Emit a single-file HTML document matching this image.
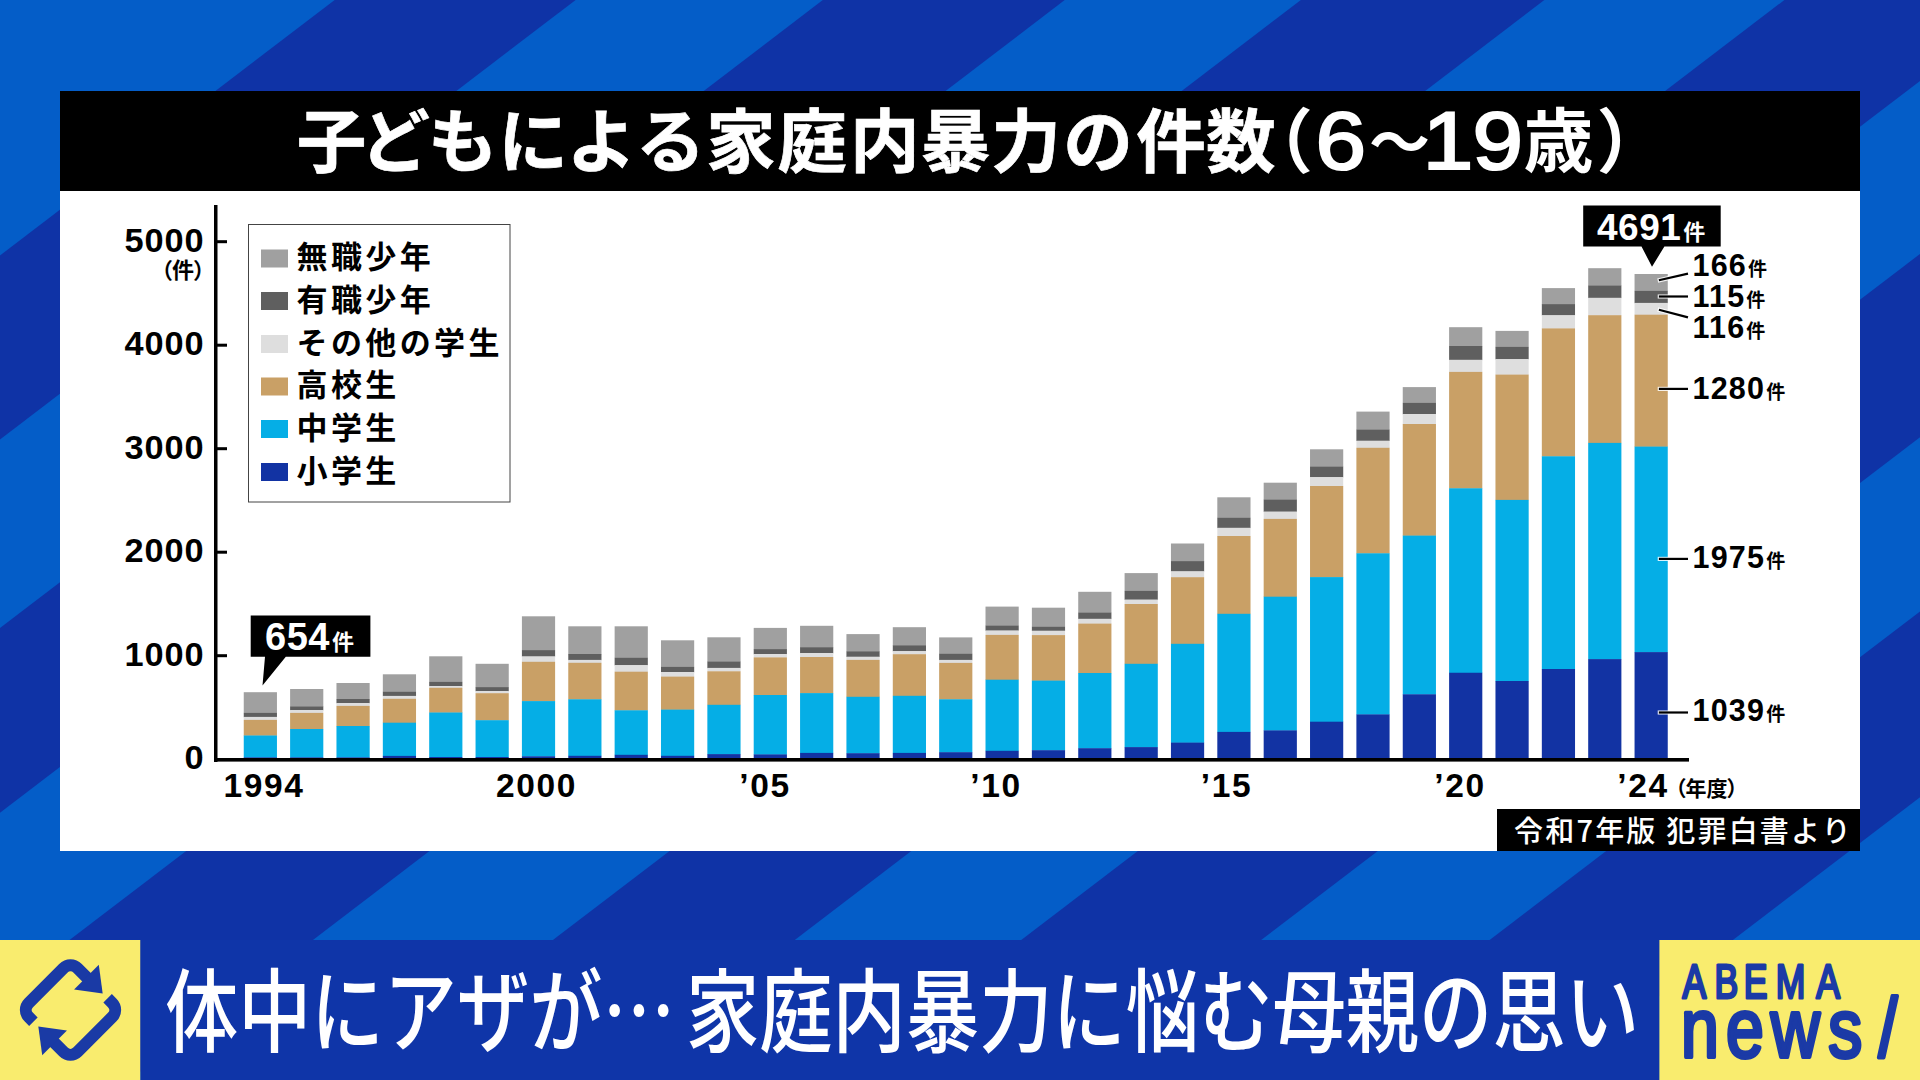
<!DOCTYPE html>
<html lang="ja"><head><meta charset="utf-8">
<style>
html,body{margin:0;padding:0;width:1920px;height:1080px;overflow:hidden;background:#0f33a6;}
svg{display:block;}
svg{font-family:"Liberation Sans","Noto Sans CJK JP",sans-serif;}
.yl{font-size:31px;font-weight:700;letter-spacing:1.6px;}
.xl{font-size:33.5px;font-weight:700;letter-spacing:1.6px;}
.jp{font-family:"Noto Sans CJK JP",sans-serif;}
</style></head><body>
<svg width="1920" height="1080" viewBox="0 0 1920 1080">
<rect x="0" y="0" width="1920" height="1080" fill="#045dc8"/><g fill="#0f33a6"><polygon points="334.7,0 575.6,0 -839.2,1080 -1080.1,1080"/><polygon points="822.8,0 1064.7,0 -350.1,1080 -592,1080"/><polygon points="1300.9,0 1544.3,0 129.5,1080 -113.9,1080"/><polygon points="1784.4,0 2026,0 611.2,1080 369.6,1080"/><polygon points="2252.7,0 2492.7,0 1077.9,1080 837.9,1080"/><polygon points="2721,0 2964.3,0 1549.5,1080 1306.2,1080"/></g>
<rect x="60" y="91" width="1800" height="760" fill="#fff"/>
<rect x="60" y="91" width="1800" height="100" fill="#000"/>
<text y="167.3" fill="#fff" font-weight="700"><tspan class="jp" x="296.75 360.2 428.1 498.25 566.8 635.8 705.9 777.35 850.1 920.85 991.25 1063.3 1136.3 1205.9" font-size="69.6" stroke="#fff" stroke-width="0.7">子どもによる家庭内暴力の件数</tspan><tspan class="jp" x="1243" font-size="70">（</tspan><tspan x="1315.5" y="169.3" font-size="81.3" font-weight="400" stroke="#fff" stroke-width="2.2" textLength="50.5" lengthAdjust="spacingAndGlyphs">6</tspan><tspan class="jp" x="1369" y="165" font-size="61">～</tspan><tspan x="1422.8" y="169.3" font-size="81.3" font-weight="400" stroke="#fff" stroke-width="2.2" textLength="50.5" lengthAdjust="spacingAndGlyphs">1</tspan><tspan x="1472.5" y="169.3" font-size="81.3" font-weight="400" stroke="#fff" stroke-width="2.2" textLength="50.5" lengthAdjust="spacingAndGlyphs">9</tspan><tspan class="jp" x="1523.5" y="167.3" font-size="70">歳</tspan><tspan class="jp" x="1596.5" font-size="70">）</tspan></text>
<rect x="243.75" y="692.2" width="33.2" height="21" fill="#a0a0a0"/><rect x="243.75" y="712.9" width="33.2" height="4.3" fill="#5f5f5f"/><rect x="243.75" y="716.9" width="33.2" height="3.3" fill="#dedede"/><rect x="243.75" y="719.9" width="33.2" height="15.9" fill="#c9a066"/><rect x="243.75" y="735.5" width="33.2" height="22.2" fill="#05aee6"/><rect x="243.75" y="757.4" width="33.2" height="2.6" fill="#1233a3"/><rect x="290.11" y="689" width="33.2" height="17.7" fill="#a0a0a0"/><rect x="290.11" y="706.4" width="33.2" height="3.9" fill="#5f5f5f"/><rect x="290.11" y="710" width="33.2" height="3.2" fill="#dedede"/><rect x="290.11" y="712.9" width="33.2" height="16.4" fill="#c9a066"/><rect x="290.11" y="729" width="33.2" height="28.7" fill="#05aee6"/><rect x="290.11" y="757.4" width="33.2" height="2.6" fill="#1233a3"/><rect x="336.47" y="683" width="33.2" height="16.3" fill="#a0a0a0"/><rect x="336.47" y="699" width="33.2" height="4.3" fill="#5f5f5f"/><rect x="336.47" y="703" width="33.2" height="3.2" fill="#dedede"/><rect x="336.47" y="705.9" width="33.2" height="20.4" fill="#c9a066"/><rect x="336.47" y="726" width="33.2" height="31.7" fill="#05aee6"/><rect x="336.47" y="757.4" width="33.2" height="2.6" fill="#1233a3"/><rect x="382.83" y="674.3" width="33.2" height="17.8" fill="#a0a0a0"/><rect x="382.83" y="691.8" width="33.2" height="4.4" fill="#5f5f5f"/><rect x="382.83" y="695.9" width="33.2" height="3.2" fill="#dedede"/><rect x="382.83" y="698.8" width="33.2" height="24.2" fill="#c9a066"/><rect x="382.83" y="722.7" width="33.2" height="33.5" fill="#05aee6"/><rect x="382.83" y="755.9" width="33.2" height="4.1" fill="#1233a3"/><rect x="429.19" y="656.3" width="33.2" height="25.9" fill="#a0a0a0"/><rect x="429.19" y="681.9" width="33.2" height="4.4" fill="#5f5f5f"/><rect x="429.19" y="686" width="33.2" height="2.1" fill="#dedede"/><rect x="429.19" y="687.8" width="33.2" height="25" fill="#c9a066"/><rect x="429.19" y="712.5" width="33.2" height="44.8" fill="#05aee6"/><rect x="429.19" y="757" width="33.2" height="3" fill="#1233a3"/><rect x="475.55" y="663.8" width="33.2" height="23.6" fill="#a0a0a0"/><rect x="475.55" y="687.1" width="33.2" height="4.2" fill="#5f5f5f"/><rect x="475.55" y="691" width="33.2" height="2.5" fill="#dedede"/><rect x="475.55" y="693.2" width="33.2" height="27.3" fill="#c9a066"/><rect x="475.55" y="720.2" width="33.2" height="37.1" fill="#05aee6"/><rect x="475.55" y="757" width="33.2" height="3" fill="#1233a3"/><rect x="521.91" y="616.3" width="33.2" height="34.1" fill="#a0a0a0"/><rect x="521.91" y="650.1" width="33.2" height="6.6" fill="#5f5f5f"/><rect x="521.91" y="656.4" width="33.2" height="5.7" fill="#dedede"/><rect x="521.91" y="661.8" width="33.2" height="39.6" fill="#c9a066"/><rect x="521.91" y="701.1" width="33.2" height="55.5" fill="#05aee6"/><rect x="521.91" y="756.3" width="33.2" height="3.7" fill="#1233a3"/><rect x="568.27" y="626.3" width="33.2" height="28" fill="#a0a0a0"/><rect x="568.27" y="654" width="33.2" height="6.2" fill="#5f5f5f"/><rect x="568.27" y="659.9" width="33.2" height="3.2" fill="#dedede"/><rect x="568.27" y="662.8" width="33.2" height="36.8" fill="#c9a066"/><rect x="568.27" y="699.3" width="33.2" height="56.8" fill="#05aee6"/><rect x="568.27" y="755.8" width="33.2" height="4.2" fill="#1233a3"/><rect x="614.63" y="626.3" width="33.2" height="31.8" fill="#a0a0a0"/><rect x="614.63" y="657.8" width="33.2" height="7.6" fill="#5f5f5f"/><rect x="614.63" y="665.1" width="33.2" height="6.9" fill="#dedede"/><rect x="614.63" y="671.7" width="33.2" height="38.9" fill="#c9a066"/><rect x="614.63" y="710.3" width="33.2" height="44.8" fill="#05aee6"/><rect x="614.63" y="754.8" width="33.2" height="5.2" fill="#1233a3"/><rect x="660.99" y="640.3" width="33.2" height="26.9" fill="#a0a0a0"/><rect x="660.99" y="666.9" width="33.2" height="5.4" fill="#5f5f5f"/><rect x="660.99" y="672" width="33.2" height="4.9" fill="#dedede"/><rect x="660.99" y="676.6" width="33.2" height="33.3" fill="#c9a066"/><rect x="660.99" y="709.6" width="33.2" height="46.5" fill="#05aee6"/><rect x="660.99" y="755.8" width="33.2" height="4.2" fill="#1233a3"/><rect x="707.35" y="637.3" width="33.2" height="24.5" fill="#a0a0a0"/><rect x="707.35" y="661.5" width="33.2" height="6.7" fill="#5f5f5f"/><rect x="707.35" y="667.9" width="33.2" height="3.7" fill="#dedede"/><rect x="707.35" y="671.3" width="33.2" height="33.8" fill="#c9a066"/><rect x="707.35" y="704.8" width="33.2" height="49.6" fill="#05aee6"/><rect x="707.35" y="754.1" width="33.2" height="5.9" fill="#1233a3"/><rect x="753.71" y="627.9" width="33.2" height="21.5" fill="#a0a0a0"/><rect x="753.71" y="649.1" width="33.2" height="5.2" fill="#5f5f5f"/><rect x="753.71" y="654" width="33.2" height="3.7" fill="#dedede"/><rect x="753.71" y="657.4" width="33.2" height="37.9" fill="#c9a066"/><rect x="753.71" y="695" width="33.2" height="59.7" fill="#05aee6"/><rect x="753.71" y="754.4" width="33.2" height="5.6" fill="#1233a3"/><rect x="800.07" y="625.8" width="33.2" height="21.7" fill="#a0a0a0"/><rect x="800.07" y="647.2" width="33.2" height="6.1" fill="#5f5f5f"/><rect x="800.07" y="653" width="33.2" height="4.3" fill="#dedede"/><rect x="800.07" y="657" width="33.2" height="36.4" fill="#c9a066"/><rect x="800.07" y="693.1" width="33.2" height="60.1" fill="#05aee6"/><rect x="800.07" y="752.9" width="33.2" height="7.1" fill="#1233a3"/><rect x="846.43" y="634.1" width="33.2" height="17.5" fill="#a0a0a0"/><rect x="846.43" y="651.3" width="33.2" height="5.7" fill="#5f5f5f"/><rect x="846.43" y="656.7" width="33.2" height="3.5" fill="#dedede"/><rect x="846.43" y="659.9" width="33.2" height="37.2" fill="#c9a066"/><rect x="846.43" y="696.8" width="33.2" height="56.7" fill="#05aee6"/><rect x="846.43" y="753.2" width="33.2" height="6.8" fill="#1233a3"/><rect x="892.79" y="627.2" width="33.2" height="18.4" fill="#a0a0a0"/><rect x="892.79" y="645.3" width="33.2" height="6.1" fill="#5f5f5f"/><rect x="892.79" y="651.1" width="33.2" height="3.4" fill="#dedede"/><rect x="892.79" y="654.2" width="33.2" height="41.9" fill="#c9a066"/><rect x="892.79" y="695.8" width="33.2" height="57.4" fill="#05aee6"/><rect x="892.79" y="752.9" width="33.2" height="7.1" fill="#1233a3"/><rect x="939.15" y="637.4" width="33.2" height="16.7" fill="#a0a0a0"/><rect x="939.15" y="653.8" width="33.2" height="6.4" fill="#5f5f5f"/><rect x="939.15" y="659.9" width="33.2" height="3.3" fill="#dedede"/><rect x="939.15" y="662.9" width="33.2" height="36.7" fill="#c9a066"/><rect x="939.15" y="699.3" width="33.2" height="53.2" fill="#05aee6"/><rect x="939.15" y="752.2" width="33.2" height="7.8" fill="#1233a3"/><rect x="985.51" y="606.6" width="33.2" height="19.4" fill="#a0a0a0"/><rect x="985.51" y="625.7" width="33.2" height="5.1" fill="#5f5f5f"/><rect x="985.51" y="630.5" width="33.2" height="4.7" fill="#dedede"/><rect x="985.51" y="634.9" width="33.2" height="45.1" fill="#c9a066"/><rect x="985.51" y="679.7" width="33.2" height="71.4" fill="#05aee6"/><rect x="985.51" y="750.8" width="33.2" height="9.2" fill="#1233a3"/><rect x="1031.87" y="607.7" width="33.2" height="19.4" fill="#a0a0a0"/><rect x="1031.87" y="626.8" width="33.2" height="4.2" fill="#5f5f5f"/><rect x="1031.87" y="630.7" width="33.2" height="4.7" fill="#dedede"/><rect x="1031.87" y="635.1" width="33.2" height="45.8" fill="#c9a066"/><rect x="1031.87" y="680.6" width="33.2" height="69.9" fill="#05aee6"/><rect x="1031.87" y="750.2" width="33.2" height="9.8" fill="#1233a3"/><rect x="1078.23" y="591.8" width="33.2" height="21.2" fill="#a0a0a0"/><rect x="1078.23" y="612.7" width="33.2" height="6.4" fill="#5f5f5f"/><rect x="1078.23" y="618.8" width="33.2" height="5.1" fill="#dedede"/><rect x="1078.23" y="623.6" width="33.2" height="49.7" fill="#c9a066"/><rect x="1078.23" y="673" width="33.2" height="75.5" fill="#05aee6"/><rect x="1078.23" y="748.2" width="33.2" height="11.8" fill="#1233a3"/><rect x="1124.59" y="573.1" width="33.2" height="18.1" fill="#a0a0a0"/><rect x="1124.59" y="590.9" width="33.2" height="9" fill="#5f5f5f"/><rect x="1124.59" y="599.6" width="33.2" height="4.7" fill="#dedede"/><rect x="1124.59" y="604" width="33.2" height="60.1" fill="#c9a066"/><rect x="1124.59" y="663.8" width="33.2" height="83.6" fill="#05aee6"/><rect x="1124.59" y="747.1" width="33.2" height="12.9" fill="#1233a3"/><rect x="1170.95" y="543.5" width="33.2" height="17.9" fill="#a0a0a0"/><rect x="1170.95" y="561.1" width="33.2" height="10.5" fill="#5f5f5f"/><rect x="1170.95" y="571.3" width="33.2" height="6.2" fill="#dedede"/><rect x="1170.95" y="577.2" width="33.2" height="66.9" fill="#c9a066"/><rect x="1170.95" y="643.8" width="33.2" height="99.1" fill="#05aee6"/><rect x="1170.95" y="742.6" width="33.2" height="17.4" fill="#1233a3"/><rect x="1217.31" y="497.3" width="33.2" height="20.8" fill="#a0a0a0"/><rect x="1217.31" y="517.8" width="33.2" height="10.3" fill="#5f5f5f"/><rect x="1217.31" y="527.8" width="33.2" height="8.5" fill="#dedede"/><rect x="1217.31" y="536" width="33.2" height="78.1" fill="#c9a066"/><rect x="1217.31" y="613.8" width="33.2" height="118.4" fill="#05aee6"/><rect x="1217.31" y="731.9" width="33.2" height="28.1" fill="#1233a3"/><rect x="1263.67" y="482.7" width="33.2" height="17.2" fill="#a0a0a0"/><rect x="1263.67" y="499.6" width="33.2" height="12.3" fill="#5f5f5f"/><rect x="1263.67" y="511.6" width="33.2" height="7.6" fill="#dedede"/><rect x="1263.67" y="518.9" width="33.2" height="78.1" fill="#c9a066"/><rect x="1263.67" y="596.7" width="33.2" height="134" fill="#05aee6"/><rect x="1263.67" y="730.4" width="33.2" height="29.6" fill="#1233a3"/><rect x="1310.03" y="449.3" width="33.2" height="17.7" fill="#a0a0a0"/><rect x="1310.03" y="466.7" width="33.2" height="10.7" fill="#5f5f5f"/><rect x="1310.03" y="477.1" width="33.2" height="9.2" fill="#dedede"/><rect x="1310.03" y="486" width="33.2" height="91.4" fill="#c9a066"/><rect x="1310.03" y="577.1" width="33.2" height="144.9" fill="#05aee6"/><rect x="1310.03" y="721.7" width="33.2" height="38.3" fill="#1233a3"/><rect x="1356.39" y="411.6" width="33.2" height="18.3" fill="#a0a0a0"/><rect x="1356.39" y="429.6" width="33.2" height="11.4" fill="#5f5f5f"/><rect x="1356.39" y="440.7" width="33.2" height="7.4" fill="#dedede"/><rect x="1356.39" y="447.8" width="33.2" height="105.8" fill="#c9a066"/><rect x="1356.39" y="553.3" width="33.2" height="161.4" fill="#05aee6"/><rect x="1356.39" y="714.4" width="33.2" height="45.6" fill="#1233a3"/><rect x="1402.75" y="387.1" width="33.2" height="16.1" fill="#a0a0a0"/><rect x="1402.75" y="402.9" width="33.2" height="11.4" fill="#5f5f5f"/><rect x="1402.75" y="414" width="33.2" height="10.3" fill="#dedede"/><rect x="1402.75" y="424" width="33.2" height="111.9" fill="#c9a066"/><rect x="1402.75" y="535.6" width="33.2" height="159" fill="#05aee6"/><rect x="1402.75" y="694.3" width="33.2" height="65.7" fill="#1233a3"/><rect x="1449.11" y="327.2" width="33.2" height="19.1" fill="#a0a0a0"/><rect x="1449.11" y="346" width="33.2" height="14.1" fill="#5f5f5f"/><rect x="1449.11" y="359.8" width="33.2" height="12.4" fill="#dedede"/><rect x="1449.11" y="371.9" width="33.2" height="116.7" fill="#c9a066"/><rect x="1449.11" y="488.3" width="33.2" height="184.75" fill="#05aee6"/><rect x="1449.11" y="672.75" width="33.2" height="87.25" fill="#1233a3"/><rect x="1495.47" y="330.9" width="33.2" height="16.3" fill="#a0a0a0"/><rect x="1495.47" y="346.9" width="33.2" height="12.5" fill="#5f5f5f"/><rect x="1495.47" y="359.1" width="33.2" height="15.8" fill="#dedede"/><rect x="1495.47" y="374.6" width="33.2" height="125.6" fill="#c9a066"/><rect x="1495.47" y="499.9" width="33.2" height="181.4" fill="#05aee6"/><rect x="1495.47" y="681" width="33.2" height="79" fill="#1233a3"/><rect x="1541.83" y="288.1" width="33.2" height="16.3" fill="#a0a0a0"/><rect x="1541.83" y="304.1" width="33.2" height="11.4" fill="#5f5f5f"/><rect x="1541.83" y="315.2" width="33.2" height="13.5" fill="#dedede"/><rect x="1541.83" y="328.4" width="33.2" height="128.2" fill="#c9a066"/><rect x="1541.83" y="456.3" width="33.2" height="213" fill="#05aee6"/><rect x="1541.83" y="669" width="33.2" height="91" fill="#1233a3"/><rect x="1588.19" y="268.2" width="33.2" height="17.6" fill="#a0a0a0"/><rect x="1588.19" y="285.5" width="33.2" height="12.6" fill="#5f5f5f"/><rect x="1588.19" y="297.8" width="33.2" height="17.7" fill="#dedede"/><rect x="1588.19" y="315.2" width="33.2" height="128" fill="#c9a066"/><rect x="1588.19" y="442.9" width="33.2" height="216.5" fill="#05aee6"/><rect x="1588.19" y="659.1" width="33.2" height="100.9" fill="#1233a3"/><rect x="1634.55" y="274" width="33.2" height="17.2" fill="#a0a0a0"/><rect x="1634.55" y="290.9" width="33.2" height="12.3" fill="#5f5f5f"/><rect x="1634.55" y="302.9" width="33.2" height="12.1" fill="#dedede"/><rect x="1634.55" y="314.7" width="33.2" height="132.2" fill="#c9a066"/><rect x="1634.55" y="446.6" width="33.2" height="205.8" fill="#05aee6"/><rect x="1634.55" y="652.1" width="33.2" height="107.9" fill="#1233a3"/>
<rect x="214" y="205" width="3.5" height="557" fill="#000"/>
<rect x="214" y="758" width="1475" height="3.6" fill="#000"/>
<text transform="translate(204.5,769.1) scale(1.04,1)" text-anchor="end" font-size="33" font-weight="700" letter-spacing="0.9">0</text><text transform="translate(204.5,665.6) scale(1.04,1)" text-anchor="end" font-size="33" font-weight="700" letter-spacing="0.9">1000</text><rect x="216" y="654.2" width="11" height="3" fill="#000"/><text transform="translate(204.5,562.1) scale(1.04,1)" text-anchor="end" font-size="33" font-weight="700" letter-spacing="0.9">2000</text><rect x="216" y="550.7" width="11" height="3" fill="#000"/><text transform="translate(204.5,458.6) scale(1.04,1)" text-anchor="end" font-size="33" font-weight="700" letter-spacing="0.9">3000</text><rect x="216" y="447.2" width="11" height="3" fill="#000"/><text transform="translate(204.5,355.1) scale(1.04,1)" text-anchor="end" font-size="33" font-weight="700" letter-spacing="0.9">4000</text><rect x="216" y="343.7" width="11" height="3" fill="#000"/><text transform="translate(204.5,251.6) scale(1.04,1)" text-anchor="end" font-size="33" font-weight="700" letter-spacing="0.9">5000</text><rect x="216" y="240.2" width="11" height="3" fill="#000"/>
<text x="205" y="278" class="jp" font-size="22" font-weight="700" text-anchor="end" style="font-feature-settings:'palt'">（件）</text>
<!-- legend -->
<rect x="248.5" y="224.5" width="261.5" height="277.5" fill="#fff" stroke="#444" stroke-width="1"/>
<rect x="261" y="249.5" width="27" height="18" fill="#a0a0a0"/><text x="296.5" y="268.1" class="jp" font-size="31" font-weight="700" letter-spacing="3.4">無職少年</text><rect x="261" y="292" width="27" height="18" fill="#5f5f5f"/><text x="296.5" y="310.6" class="jp" font-size="31" font-weight="700" letter-spacing="3.4">有職少年</text><rect x="261" y="335" width="27" height="18" fill="#dedede"/><text x="296.5" y="353.6" class="jp" font-size="31" font-weight="700" letter-spacing="3.4">その他の学生</text><rect x="261" y="377.5" width="27" height="18" fill="#c9a066"/><text x="296.5" y="396.1" class="jp" font-size="31" font-weight="700" letter-spacing="3.4">高校生</text><rect x="261" y="420" width="27" height="18" fill="#05aee6"/><text x="296.5" y="438.6" class="jp" font-size="31" font-weight="700" letter-spacing="3.4">中学生</text><rect x="261" y="463" width="27" height="18" fill="#1233a3"/><text x="296.5" y="481.6" class="jp" font-size="31" font-weight="700" letter-spacing="3.4">小学生</text>
<!-- x labels -->
<text x="264" y="797" class="xl" text-anchor="middle">1994</text>
<text x="536.5" y="797" class="xl" text-anchor="middle">2000</text>
<text x="765" y="797" class="xl" text-anchor="middle">’05</text>
<text x="996" y="797" class="xl" text-anchor="middle">’10</text>
<text x="1226.5" y="797" class="xl" text-anchor="middle">’15</text>
<text x="1460" y="797" class="xl" text-anchor="middle">’20</text>
<text x="1643" y="797" class="xl" text-anchor="middle">’24</text>
<text x="1675" y="795.5" class="jp" font-size="21" font-weight="700" style="font-feature-settings:'palt'">（年度）</text>
<!-- source -->
<rect x="1497" y="809" width="363" height="42" fill="#000"/>
<text x="1514" y="842" class="jp" font-size="29" font-weight="500" fill="#fff" letter-spacing="2.2">令和7年版 犯罪白書より</text>
<!-- callouts -->
<path d="M250.7,615.4 H370.4 V656.7 H285.8 L262.5,685.4 L265,656.7 H250.7 Z" fill="#000"/>
<text x="265" y="650.4" font-size="38" font-weight="700" fill="#fff" letter-spacing="0.5">654<tspan class="jp" font-size="22" dx="2">件</tspan></text>
<path d="M1583.2,205.6 H1720.7 V246.5 H1664.4 L1652,266.7 L1641.5,246.5 H1583.2 Z" fill="#000"/>
<text x="1597" y="240.3" font-size="37" font-weight="700" fill="#fff" letter-spacing="0.5">4691<tspan class="jp" font-size="22" dx="2">件</tspan></text>
<line x1="1657.7" y1="280.58" x2="1668.5" y2="278.09" stroke="#fff" stroke-width="4.2" stroke-opacity="0.85"/><line x1="1658.9" y1="280.3" x2="1688" y2="273.6" stroke="#000" stroke-width="2.2"/><text x="1692.5" y="275.7" font-size="30.5" font-weight="700" letter-spacing="1.2">166<tspan class="jp" font-size="19" dx="1">件</tspan></text><line x1="1657.7" y1="296.5" x2="1668.5" y2="296.5" stroke="#fff" stroke-width="4.2" stroke-opacity="0.85"/><line x1="1658.9" y1="296.5" x2="1688" y2="296.5" stroke="#000" stroke-width="2.2"/><text x="1692.5" y="307" font-size="30.5" font-weight="700" letter-spacing="1.2">115<tspan class="jp" font-size="19" dx="1">件</tspan></text><line x1="1657.7" y1="309.38" x2="1668.5" y2="312.24" stroke="#fff" stroke-width="4.2" stroke-opacity="0.85"/><line x1="1658.9" y1="309.7" x2="1688" y2="317.4" stroke="#000" stroke-width="2.2"/><text x="1692.5" y="338.2" font-size="30.5" font-weight="700" letter-spacing="1.2">116<tspan class="jp" font-size="19" dx="1">件</tspan></text><line x1="1657.7" y1="388.9" x2="1668.5" y2="388.9" stroke="#fff" stroke-width="4.2" stroke-opacity="0.85"/><line x1="1658.9" y1="388.9" x2="1688" y2="388.9" stroke="#000" stroke-width="2.2"/><text x="1692.5" y="398.9" font-size="30.5" font-weight="700" letter-spacing="1.2">1280<tspan class="jp" font-size="19" dx="1">件</tspan></text><line x1="1657.7" y1="558.9" x2="1668.5" y2="558.9" stroke="#fff" stroke-width="4.2" stroke-opacity="0.85"/><line x1="1658.9" y1="558.9" x2="1688" y2="558.9" stroke="#000" stroke-width="2.2"/><text x="1692.5" y="567.8" font-size="30.5" font-weight="700" letter-spacing="1.2">1975<tspan class="jp" font-size="19" dx="1">件</tspan></text><line x1="1657.7" y1="712.5" x2="1668.5" y2="712.5" stroke="#fff" stroke-width="4.2" stroke-opacity="0.85"/><line x1="1658.9" y1="712.5" x2="1688" y2="712.5" stroke="#000" stroke-width="2.2"/><text x="1692.5" y="721" font-size="30.5" font-weight="700" letter-spacing="1.2">1039<tspan class="jp" font-size="19" dx="1">件</tspan></text>
<!-- bottom bar -->
<rect x="0" y="940" width="140.5" height="140" fill="#f9ec6e"/>
<rect x="140.5" y="940" width="1519" height="140" fill="#0f35a8"/>
<rect x="1659.4" y="940" width="260.6" height="140" fill="#f9ec6e"/>
<g transform="translate(70.5,1010) rotate(45)" fill="none" stroke="#1a3aa5" stroke-width="12">
<path d="M-18,34.5 H-24.5 A10,10 0 0 1 -34.5,24.5 V-24.5 A10,10 0 0 1 -24.5,-34.5 H-10"/>
<path d="M18,-34.5 H24.5 A10,10 0 0 1 34.5,-24.5 V24.5 A10,10 0 0 1 24.5,34.5 H10"/>
<polygon points="-12,-52 11,-34.5 -12,-17" fill="#1a3aa5" stroke="none"/>
<polygon points="12,52 -11,34.5 12,17" fill="#1a3aa5" stroke="none"/>
</g>
<text y="1044.6" class="jp" font-weight="500" font-size="90.4" fill="#fff" transform="scale(0.8085,1)"><tspan x="204.5" textLength="630.8" lengthAdjust="spacingAndGlyphs">体中にアザが…</tspan> <tspan x="848.5" textLength="1178.8" lengthAdjust="spacingAndGlyphs">家庭内暴力に悩む母親の思い</tspan></text>
<text transform="translate(0,997.5) scale(0.75,1)" x="2243.5 2286.1 2325.1 2367.7 2421.7" y="0" font-family="Liberation Sans" font-weight="400" font-size="47.4" fill="#1b3aa6" stroke="#1b3aa6" stroke-width="3" stroke-linejoin="round" stroke-linecap="round">ABEMA</text>
<text transform="translate(0,1056.8) scale(0.82,1)" x="2049.9 2104.8 2159.6 2229.5 2291" y="0" font-family="Liberation Sans" font-weight="400" font-size="83" fill="#1b3aa6" stroke="#1b3aa6" stroke-width="4" stroke-linejoin="round" stroke-linecap="round">news/</text>
</svg>
</body></html>
